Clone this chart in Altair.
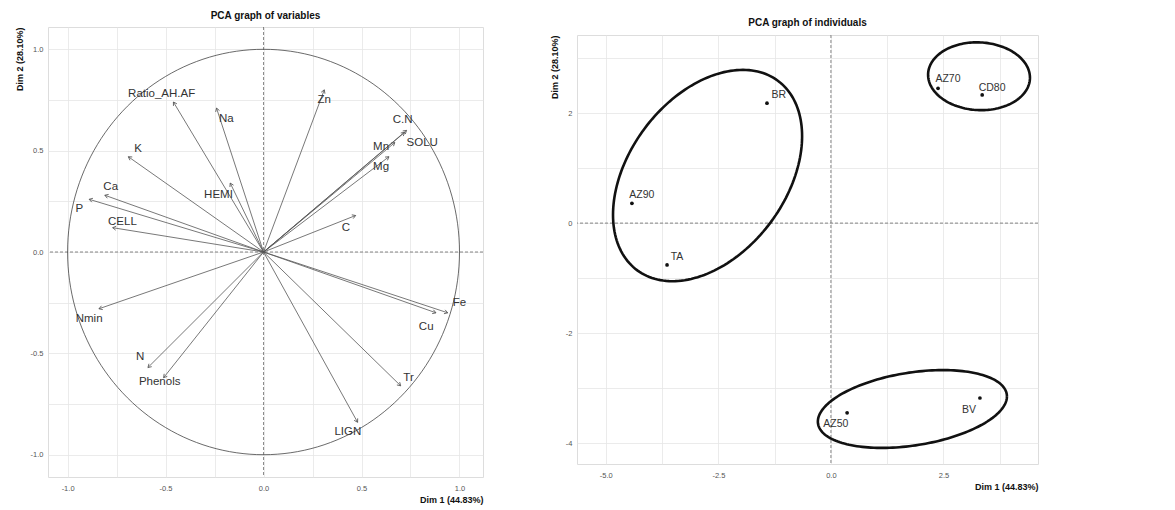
import altair as alt
import numpy as np
import pandas as pd

# ---------------- data: variables (correlation circle) ----------------
var_names = ["Ratio_AH.AF", "Na", "Zn", "C.N", "SOLU", "Mn", "Mg", "K", "HEMI",
             "Ca", "P", "CELL", "C", "Nmin", "N", "Phenols", "Fe", "Cu", "Tr", "LIGN"]
var_dim1 = [-0.46, -0.24, 0.31, 0.73, 0.72, 0.67, 0.64, -0.69, -0.17,
            -0.81, -0.89, -0.77, 0.47, -0.84, -0.59, -0.51, 0.94, 0.88, 0.70, 0.48]
var_dim2 = [0.74, 0.71, 0.80, 0.60, 0.59, 0.54, 0.47, 0.47, 0.34,
            0.28, 0.26, 0.12, 0.18, -0.28, -0.57, -0.62, -0.30, -0.30, -0.66, -0.84]
var_lab1 = [-0.52, -0.19, 0.31, 0.71, 0.81, 0.60, 0.60, -0.64, -0.23,
            -0.78, -0.94, -0.72, 0.42, -0.89, -0.63, -0.53, 1.00, 0.83, 0.74, 0.43]
var_lab2 = [0.78, 0.655, 0.75, 0.65, 0.54, 0.52, 0.42, 0.51, 0.28,
            0.32, 0.21, 0.15, 0.12, -0.33, -0.52, -0.64, -0.25, -0.37, -0.62, -0.89]

# ---------------- data: individuals ----------------
ind_names = ["BR", "AZ90", "TA", "AZ70", "CD80", "AZ50", "BV"]
ind_dim1 = [-1.42, -4.42, -3.64, 2.38, 3.36, 0.36, 3.31]
ind_dim2 = [2.18, 0.36, -0.76, 2.45, 2.33, -3.45, -3.18]
ind_lab1 = [-1.16, -4.20, -3.42, 2.60, 3.58, 0.11, 3.07]
ind_lab2 = [2.33, 0.51, -0.62, 2.62, 2.45, -3.65, -3.40]

# ---------------- group ellipses (centre + covariance) ----------------
ell_group = ["g1", "g2", "g3"]
ell_cx = [-2.74, 3.29, 1.81]
ell_cy = [0.865, 2.67, -3.38]
ell_sxx = [4.41, 1.28, 4.41]
ell_syy = [3.69, 0.38, 0.50]
ell_sxy = [1.50, -0.03, 0.48]

FONT = "Liberation Sans"
AXIS_X1 = "Dim 1 (44.83%)"
AXIS_Y2 = "Dim 2 (28.10%)"

# ---------------- build tables ----------------
vars_df = pd.DataFrame({"name": var_names, "d1": var_dim1, "d2": var_dim2,
                        "l1": var_lab1, "l2": var_lab2})
ind_df = pd.DataFrame({"name": ind_names, "d1": ind_dim1, "d2": ind_dim2,
                       "l1": ind_lab1, "l2": ind_lab2})
one_df = pd.DataFrame({"o": [0]})

t = np.linspace(0, 2 * np.pi, 181)
circle_df = pd.DataFrame({"d1": np.cos(t), "d2": np.sin(t), "k": np.arange(len(t))})

rows = []
for g, cx, cy, sxx, syy, sxy in zip(ell_group, ell_cx, ell_cy, ell_sxx, ell_syy, ell_sxy):
    L = np.linalg.cholesky(np.array([[sxx, sxy], [sxy, syy]]))
    pts = L @ np.vstack([np.cos(t), np.sin(t)])
    for i in range(len(t)):
        rows.append({"g": g, "k": i, "d1": cx + pts[0, i], "d2": cy + pts[1, i]})
ell_df = pd.DataFrame(rows)


def minor_label(step):
    return f"abs(datum.value/{step} - round(datum.value/{step})) < 0.001"


DASH = dict(color="#555555", strokeDash=[3, 2], strokeWidth=0.7)

# ---------------- left panel: variables ----------------
lx_scale = alt.Scale(domain=[-1.1, 1.12], nice=False, zero=False)
ly_scale = alt.Scale(domain=[-1.11, 1.11], nice=False, zero=False)
lx_axis = alt.Axis(values=list(np.round(np.arange(-1.0, 1.01, 0.25), 2)),
                   labelExpr=f"{minor_label(0.5)} ? replace(format(datum.value, '.1f'), '−', '-') : ''",
                   title=AXIS_X1)
ly_axis = alt.Axis(values=list(np.round(np.arange(-1.0, 1.01, 0.25), 2)),
                   labelExpr=f"{minor_label(0.5)} ? replace(format(datum.value, '.1f'), '−', '-') : ''",
                   title=AXIS_Y2)


def LX(f):
    return alt.X(f, type="quantitative", scale=lx_scale, axis=lx_axis, title=AXIS_X1)


def LY(f):
    return alt.Y(f, type="quantitative", scale=ly_scale, axis=ly_axis, title=AXIS_Y2)


circle = alt.Chart(circle_df).mark_line(color="#444444", strokeWidth=0.8).encode(
    x=LX("d1"), y=LY("d2"), order="k:Q")
zero_v = alt.Chart(one_df).mark_rule(**DASH).encode(x=LX("o"))
zero_h = alt.Chart(one_df).mark_rule(**DASH).encode(y=LY("o"))
arrows = alt.Chart(vars_df).mark_rule(color="#555555", strokeWidth=0.8).encode(
    x=LX("d1"), y=LY("d2"), x2=alt.X2Datum(0), y2=alt.Y2Datum(0))
heads = alt.Chart(vars_df).transform_calculate(
    ang="(90 - atan2(datum.d2, datum.d1) * 180 / PI + 720) % 360"
).mark_point(shape="M -0.6 1 L 0 0 L 0.6 1", filled=False, color="#555555",
             strokeWidth=0.8, size=45, opacity=1).encode(
    x=LX("d1"), y=LY("d2"), angle=alt.Angle("ang:Q", scale=None))
vlabels = alt.Chart(vars_df).mark_text(font=FONT, fontSize=11.5, color="#333333").encode(
    x=LX("l1"), y=LY("l2"), text="name:N")

left = alt.layer(zero_v, zero_h, circle, arrows, heads, vlabels).properties(
    width=435, height=450,
    title=alt.TitleParams("PCA graph of variables", offset=6))

# ---------------- right panel: individuals ----------------
rx_scale = alt.Scale(domain=[-5.64, 4.6], nice=False, zero=False)
ry_scale = alt.Scale(domain=[-4.38, 3.42], nice=False, zero=False)
rx_axis = alt.Axis(values=list(np.round(np.arange(-5.0, 4.0, 1.25), 2)),
                   labelExpr=f"{minor_label(2.5)} ? replace(format(datum.value, '.1f'), '−', '-') : ''",
                   title=AXIS_X1)
ry_axis = alt.Axis(values=list(range(-4, 4)),
                   labelExpr=f"{minor_label(2)} ? replace(format(datum.value, 'd'), '−', '-') : ''",
                   title=AXIS_Y2)


def RX(f):
    return alt.X(f, type="quantitative", scale=rx_scale, axis=rx_axis, title=AXIS_X1)


def RY(f):
    return alt.Y(f, type="quantitative", scale=ry_scale, axis=ry_axis, title=AXIS_Y2)


rzero_v = alt.Chart(one_df).mark_rule(**DASH).encode(x=RX("o"))
rzero_h = alt.Chart(one_df).mark_rule(**DASH).encode(y=RY("o"))
ellipses = alt.Chart(ell_df).mark_line(color="#111111", strokeWidth=2.6).encode(
    x=RX("d1"), y=RY("d2"), detail="g:N", order="k:Q")
points = alt.Chart(ind_df).mark_point(filled=True, color="#111111", size=14, opacity=1).encode(
    x=RX("d1"), y=RY("d2"))
ilabels = alt.Chart(ind_df).mark_text(font=FONT, fontSize=10.5, color="#333333").encode(
    x=RX("l1"), y=RY("l2"), text="name:N")

right_plot = alt.layer(rzero_v, rzero_h, ellipses, points, ilabels).properties(
    width=461, height=429)

spacer = alt.Chart(one_df).mark_point(opacity=0).encode(
    x=alt.value(0), y=alt.value(0)
).properties(width=461, height=6,
             view=alt.ViewBackground(stroke="transparent"),
             title=alt.TitleParams("PCA graph of individuals", offset=6, dy=10))

right = alt.vconcat(spacer, right_plot, spacing=0)

chart = alt.hconcat(left, right, spacing=65).properties(
    padding={"left": 6, "top": 2, "right": 0, "bottom": 0}
).configure(
    font=FONT
).configure_view(
    stroke="#dddddd", strokeWidth=1
).configure_axis(
    grid=True, gridColor="#e6e6e6", gridWidth=0.8, domain=False, ticks=False,
    labelFont=FONT, labelFontSize=7.5, labelColor="#555555", labelPadding=7,
    titleFont=FONT, titleFontSize=9, titleFontWeight="bold", titleColor="#111111",
    titleAnchor="end"
).configure_axisY(
    titlePadding=6, labelPadding=5
).configure_title(
    font=FONT, fontSize=10, fontWeight="bold", color="#111111", anchor="middle"
)

chart.save("out.html", embed_options={"renderer": "svg", "actions": False})
